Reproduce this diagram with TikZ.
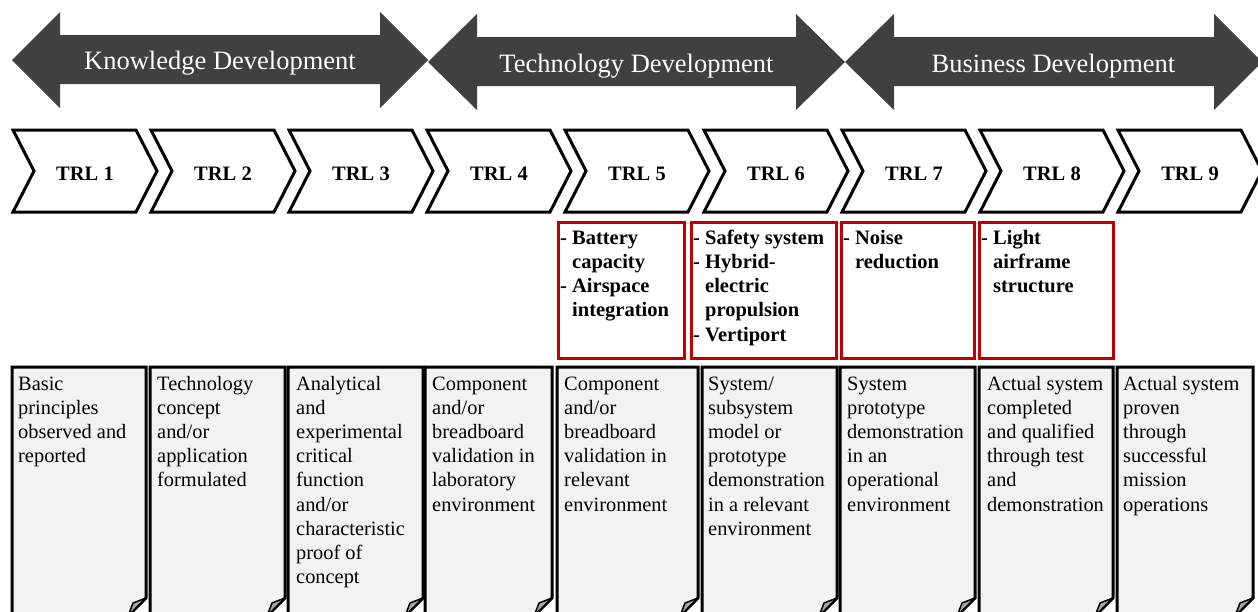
\documentclass[tikz,border=0pt]{standalone}
\usepackage{fontspec}
\setmainfont{Liberation Serif}
\usetikzlibrary{positioning}
\definecolor{arrowgray}{HTML}{404040}
\definecolor{issuered}{HTML}{C00000}
\definecolor{paper}{HTML}{F2F2F2}
\definecolor{foldgray}{HTML}{A6A6A6}
\newcommand{\desctext}[1]{\parbox[t]{140pt}{\fontsize{20.4}{24.2}\selectfont\raggedright #1}}
\newcommand{\issuetext}[1]{\parbox[t]{150pt}{\fontsize{20.5}{24.3}\selectfont\bfseries\raggedright #1}}
\newcommand{\hang}{\hphantom{-~}}

\begin{document}
\begin{tikzpicture}[x=1pt,y=1pt]
\tikzset{
  phase/.style={text=white,font=\fontsize{26.5}{30}\selectfont,inner sep=0pt,anchor=base},
  chevron/.style={draw=black,fill=white,line width=3pt,line join=miter},
  trl/.style={font=\fontsize{20.5}{24}\selectfont\bfseries,inner sep=0pt,anchor=base},
  issuebox/.style={draw=issuered,line width=3pt},
  descbox/.style={draw=black,fill=paper,line width=3pt,line join=miter},
  fold/.style={draw=black,fill=foldgray,line width=1.5pt,line join=round},
  every node/.append style={inner sep=0pt}
}
\useasboundingbox (0,0) rectangle (1258,-611);
\clip (0,0) rectangle (1258,-611);
% phase arrows
\fill [arrowgray] (12,-60) -- (60,-12) -- (60,-35) -- (380,-35) -- (380,-12) -- (428,-60) -- (380,-108) -- (380,-84) -- (60,-84) -- (60,-108) -- cycle;
\node [phase] (know) at (220,-69) {Knowledge Development};
\fill [arrowgray] (428,-62) -- (477,-14) -- (477,-37) -- (796,-37) -- (796,-14) -- (845,-62) -- (796,-110) -- (796,-86) -- (477,-86) -- (477,-110) -- cycle;
\node [phase] (tech) at (636.5,-72) {Technology Development};
\fill [arrowgray] (845,-62) -- (894,-14) -- (894,-37) -- (1214,-37) -- (1214,-14) -- (1262,-62) -- (1214,-110) -- (1214,-86) -- (894,-86) -- (894,-110) -- cycle;
\node [phase] (bus) at (1053.5,-72) {Business Development};
% readiness levels
\draw [chevron] (13,-130) -- (136,-130) -- (157,-171) -- (136,-212) -- (13,-212) -- (34,-171) -- cycle;
\node [trl] (trl1) at (85,-180) {TRL 1};
\draw [chevron] (151,-130) -- (274,-130) -- (295,-171) -- (274,-212) -- (151,-212) -- (172,-171) -- cycle;
\node [trl] (trl2) at (223,-180) {TRL 2};
\draw [chevron] (289,-130) -- (412,-130) -- (433,-171) -- (412,-212) -- (289,-212) -- (310,-171) -- cycle;
\node [trl] (trl3) at (361,-180) {TRL 3};
\draw [chevron] (427,-130) -- (550,-130) -- (571,-171) -- (550,-212) -- (427,-212) -- (448,-171) -- cycle;
\node [trl] (trl4) at (499,-180) {TRL 4};
\draw [chevron] (565,-130) -- (688,-130) -- (709,-171) -- (688,-212) -- (565,-212) -- (586,-171) -- cycle;
\node [trl] (trl5) at (637,-180) {TRL 5};
\draw [chevron] (704,-130) -- (827,-130) -- (848,-171) -- (827,-212) -- (704,-212) -- (725,-171) -- cycle;
\node [trl] (trl6) at (776,-180) {TRL 6};
\draw [chevron] (842,-130) -- (965,-130) -- (986,-171) -- (965,-212) -- (842,-212) -- (863,-171) -- cycle;
\node [trl] (trl7) at (914,-180) {TRL 7};
\draw [chevron] (980,-130) -- (1103,-130) -- (1124,-171) -- (1103,-212) -- (980,-212) -- (1001,-171) -- cycle;
\node [trl] (trl8) at (1052,-180) {TRL 8};
\draw [chevron] (1118,-130) -- (1241,-130) -- (1262,-171) -- (1241,-212) -- (1118,-212) -- (1139,-171) -- cycle;
\node [trl] (trl9) at (1190,-180) {TRL 9};
% key issues
\draw [issuebox] (558,-222) rectangle (684,-358);
\node [anchor=base west] (iss5) at (560,-244) {\issuetext{- Battery\\\hang capacity\\- Airspace\\\hang integration}};
\draw [issuebox] (691,-222) rectangle (836,-358);
\node [anchor=base west] (iss6) at (693,-244) {\issuetext{- Safety system\\- Hybrid-\\\hang electric\\\hang propulsion\\- Vertiport}};
\draw [issuebox] (841,-222) rectangle (974,-358);
\node [anchor=base west] (iss7) at (843,-244) {\issuetext{- Noise\\\hang reduction}};
\draw [issuebox] (979,-222) rectangle (1113,-358);
\node [anchor=base west] (iss8) at (981,-244) {\issuetext{- Light\\\hang airframe\\\hang structure}};
% descriptions
\draw [descbox] (12,-616) -- (12,-367) -- (146,-367) -- (146,-598) -- (128,-616) -- cycle;
\draw [fold] (146,-598) .. controls (140,-601) .. (133,-603) -- (128,-616) -- cycle;
\node [anchor=base west] (desc1) at (18,-390) {\desctext{Basic\\principles\\observed and\\reported}};
\draw [descbox] (150,-616) -- (150,-367) -- (285,-367) -- (285,-598) -- (267,-616) -- cycle;
\draw [fold] (285,-598) .. controls (279,-601) .. (272,-603) -- (267,-616) -- cycle;
\node [anchor=base west] (desc2) at (157,-390) {\desctext{Technology\\concept\\and/or\\application\\formulated}};
\draw [descbox] (288,-616) -- (288,-367) -- (423,-367) -- (423,-598) -- (405,-616) -- cycle;
\draw [fold] (423,-598) .. controls (417,-601) .. (410,-603) -- (405,-616) -- cycle;
\node [anchor=base west] (desc3) at (296,-390) {\desctext{Analytical\\and\\experimental\\critical\\function\\and/or\\characteristic\\proof of\\concept}};
\draw [descbox] (425,-616) -- (425,-367) -- (552,-367) -- (552,-598) -- (534,-616) -- cycle;
\draw [fold] (552,-598) .. controls (546,-601) .. (539,-603) -- (534,-616) -- cycle;
\node [anchor=base west] (desc4) at (432,-390) {\desctext{Component\\and/or\\breadboard\\validation in\\laboratory\\environment}};
\draw [descbox] (557,-616) -- (557,-367) -- (698,-367) -- (698,-598) -- (680,-616) -- cycle;
\draw [fold] (698,-598) .. controls (692,-601) .. (685,-603) -- (680,-616) -- cycle;
\node [anchor=base west] (desc5) at (564,-390) {\desctext{Component\\and/or\\breadboard\\validation in\\relevant\\environment}};
\draw [descbox] (702,-616) -- (702,-367) -- (837,-367) -- (837,-598) -- (819,-616) -- cycle;
\draw [fold] (837,-598) .. controls (831,-601) .. (824,-603) -- (819,-616) -- cycle;
\node [anchor=base west] (desc6) at (708,-390) {\desctext{System/\\subsystem\\model or\\prototype\\demonstration\\in a relevant\\environment}};
\draw [descbox] (840,-616) -- (840,-367) -- (975,-367) -- (975,-598) -- (957,-616) -- cycle;
\draw [fold] (975,-598) .. controls (969,-601) .. (962,-603) -- (957,-616) -- cycle;
\node [anchor=base west] (desc7) at (847,-390) {\desctext{System\\prototype\\demonstration\\in an\\operational\\environment}};
\draw [descbox] (979,-616) -- (979,-367) -- (1113,-367) -- (1113,-598) -- (1095,-616) -- cycle;
\draw [fold] (1113,-598) .. controls (1107,-601) .. (1100,-603) -- (1095,-616) -- cycle;
\node [anchor=base west] (desc8) at (987,-390) {\desctext{Actual system\\completed\\and qualified\\through test\\and\\demonstration}};
\draw [descbox] (1117,-616) -- (1117,-367) -- (1253,-367) -- (1253,-598) -- (1235,-616) -- cycle;
\draw [fold] (1253,-598) .. controls (1247,-601) .. (1240,-603) -- (1235,-616) -- cycle;
\node [anchor=base west] (desc9) at (1123,-390) {\desctext{Actual system\\proven\\through\\successful\\mission\\operations}};
\end{tikzpicture}
\end{document}
